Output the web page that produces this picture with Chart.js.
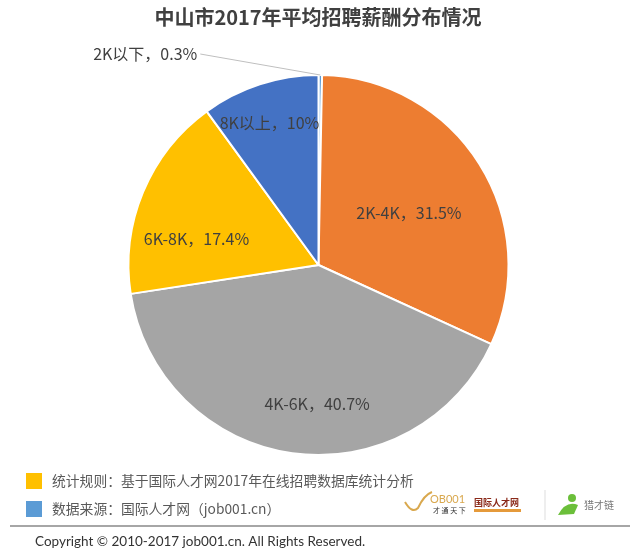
<!DOCTYPE html>
<html>
<head>
<meta charset="utf-8">
<script src="https://cdn.jsdelivr.net/npm/chart.js@4/dist/chart.umd.min.js"></script>
<style>
  html, body { margin: 0; padding: 0; background: #fff; }
  #wrap { position: relative; width: 640px; height: 554px; }
</style>
</head>
<body>
<div id="wrap"><canvas id="pie" width="640" height="554"></canvas></div>
<script>
const title = "中山市2017年平均招聘薪酬分布情况";
const categories = ["2K以下", "2K-4K", "4K-6K", "6K-8K", "8K以上"];
const shares = [0.3, 31.5, 40.7, 17.4, 10];
const shareLabels = ["0.3%", "31.5%", "40.7%", "17.4%", "10%"];
const sliceColors = ["#5B9BD5", "#ED7D31", "#A5A5A5", "#FFC000", "#4472C4"];
const notes = [
  "统计规则：基于国际人才网2017年在线招聘数据库统计分析",
  "数据来源：国际人才网（job001.cn）"
];
const noteColors = ["#FFC000", "#5B9BD5"];
const copyright = "Copyright © 2010-2017 job001.cn. All Rights Reserved.";

// where each label sits: fraction of radius along the slice middle, plus a nudge
const labelPos = [
  null,
  { r: 0.55, dx: 2, dy: 4 },
  { r: 0.74, dx: 18, dy: 0 },
  { r: 0.65, dx: -8, dy: 21 },
  { r: 0.8, dx: -2, dy: 2 }
];

const CJK = '"Microsoft YaHei", "Noto Sans CJK SC", sans-serif';

const decor = {
  id: "decor",
  afterDatasetsDraw(chart) {
    const ctx = chart.ctx;
    const meta = chart.getDatasetMeta(0);
    ctx.save();

    // title
    ctx.fillStyle = "#404040";
    ctx.font = "bold 20px " + CJK;
    ctx.textAlign = "center";
    ctx.textBaseline = "middle";
    ctx.fillText(title, 318, 17);

    // slice labels
    ctx.font = "16px " + CJK;
    ctx.fillStyle = "#404040";
    meta.data.forEach((arc, i) => {
      const mid = (arc.startAngle + arc.endAngle) / 2;
      const text = categories[i] + "，" + shareLabels[i];
      const p = labelPos[i];
      if (p) {
        const r = arc.outerRadius * p.r;
        ctx.textAlign = "center";
        ctx.fillText(text, arc.x + Math.cos(mid) * r + p.dx, arc.y + Math.sin(mid) * r + p.dy);
      } else {
        const ex = arc.x + Math.cos(mid) * arc.outerRadius;
        const ey = arc.y + Math.sin(mid) * arc.outerRadius;
        const tx = ex - 123, ty = ey - 21;
        ctx.strokeStyle = "#BFBFBF";
        ctx.lineWidth = 1;
        ctx.beginPath();
        ctx.moveTo(tx + 3, ty);
        ctx.lineTo(ex, ey);
        ctx.stroke();
        ctx.textAlign = "right";
        ctx.fillText(text, tx, ty);
      }
    });

    // notes
    ctx.textAlign = "left";
    ctx.font = "13.8px " + CJK;
    notes.forEach((n, i) => {
      const y = 481 + i * 28;
      ctx.fillStyle = noteColors[i];
      ctx.fillRect(26, y - 8, 16, 16);
      ctx.fillStyle = "#595959";
      ctx.fillText(n, 52, y);
    });

    // separator and copyright
    ctx.strokeStyle = "#A6A6A6";
    ctx.lineWidth = 2;
    ctx.beginPath();
    ctx.moveTo(10, 526);
    ctx.lineTo(630, 526);
    ctx.stroke();
    ctx.fillStyle = "#333333";
    ctx.font = "13.5px Lato, sans-serif";
    ctx.fillText(copyright, 35, 542);

    // logos (rough)
    ctx.strokeStyle = "#D9A84E";
    ctx.lineWidth = 2;
    ctx.beginPath();
    ctx.moveTo(405, 502);
    ctx.quadraticCurveTo(412, 514, 418, 508);
    ctx.quadraticCurveTo(424, 495, 432, 492);
    ctx.stroke();
    ctx.fillStyle = "#D9A84E";
    ctx.font = "11px Lato, sans-serif";
    ctx.fillText("OB001", 430, 499);
    ctx.fillStyle = "#333";
    ctx.font = "7px " + CJK;
    ctx.fillText("才 通 天 下", 433, 510);
    ctx.fillStyle = "#8B2A1A";
    ctx.font = "bold 9px " + CJK;
    ctx.fillText("国际人才网", 474, 503);
    ctx.fillStyle = "#E59A3B";
    ctx.fillRect(474, 509, 47, 3);
    ctx.strokeStyle = "#DDD";
    ctx.lineWidth = 1;
    ctx.beginPath();
    ctx.moveTo(545, 490);
    ctx.lineTo(545, 520);
    ctx.stroke();
    ctx.fillStyle = "#6BBF3A";
    ctx.beginPath();
    ctx.arc(572, 498, 4, 0, Math.PI * 2);
    ctx.fill();
    ctx.beginPath();
    ctx.moveTo(558, 515);
    ctx.quadraticCurveTo(566, 500, 578, 505);
    ctx.lineTo(574, 514);
    ctx.closePath();
    ctx.fill();
    ctx.fillStyle = "#777";
    ctx.font = "10px " + CJK;
    ctx.fillText("猎才链", 584, 505);

    ctx.restore();
  }
};

new Chart(document.getElementById("pie"), {
  type: "pie",
  data: {
    labels: categories,
    datasets: [{
      data: shares,
      backgroundColor: sliceColors,
      borderColor: "#ffffff",
      borderWidth: 2,
      hoverOffset: 0
    }]
  },
  options: {
    responsive: false,
    animation: false,
    layout: { padding: { top: 74, bottom: 98, left: 0, right: 3 } },
    plugins: {
      legend: { display: false },
      tooltip: { enabled: false }
    }
  },
  plugins: [decor]
});
</script>
</body>
</html>
